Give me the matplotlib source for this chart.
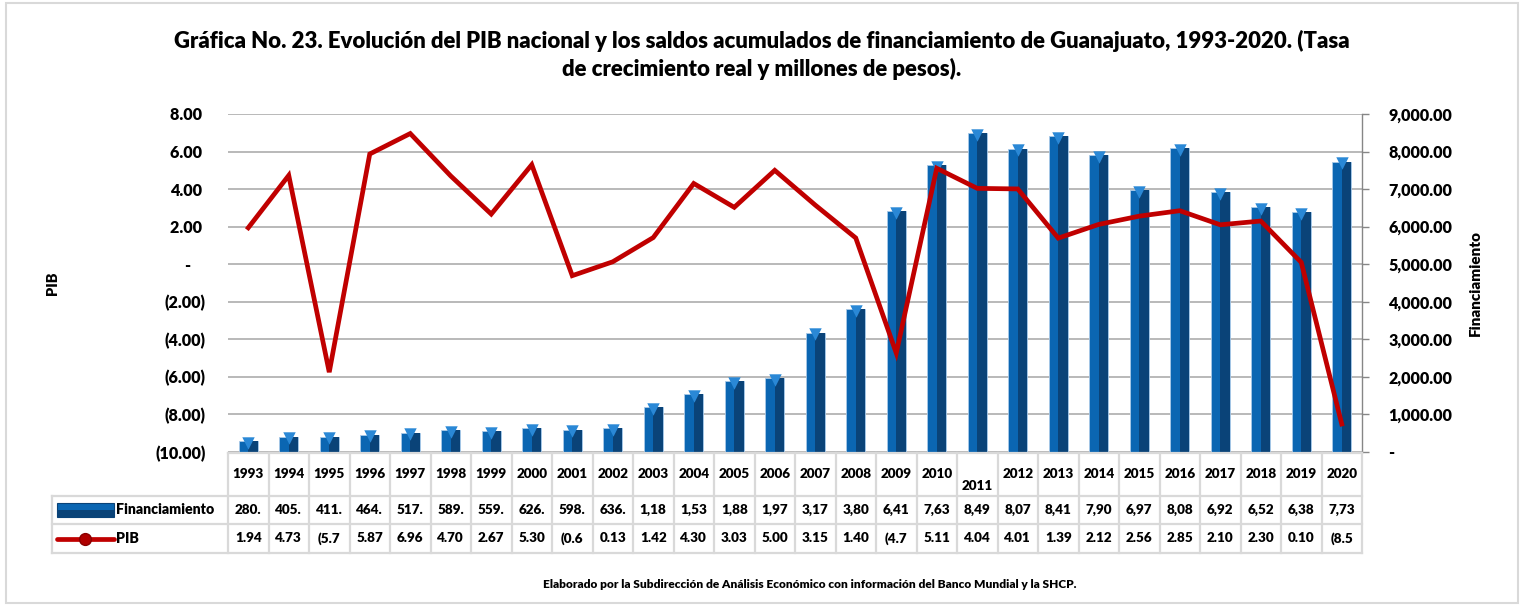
import matplotlib
matplotlib.use('Agg')
import matplotlib.pyplot as plt
import matplotlib.patches as mpatches
from matplotlib.ticker import FuncFormatter
import numpy as np

plt.rcParams['font.family'] = ['Lato', 'DejaVu Sans']
plt.rcParams['font.weight'] = 'heavy'
WT = 'heavy'

years = [str(y) for y in range(1993, 2021)]
financiamiento = [280.5, 405.2, 411.3, 464.1, 517.6, 589.4, 559.8, 626.0, 598.7, 636.2,
                  1185, 1535, 1885, 1975, 3175, 3805, 6415, 7635, 8495, 8075,
                  8415, 7905, 6975, 8085, 6925, 6525, 6385, 7735]
pib = [1.94, 4.73, -5.75, 5.87, 6.96, 4.70, 2.67, 5.30, -0.61, 0.13,
       1.42, 4.30, 3.03, 5.00, 3.15, 1.40, -4.73, 5.11, 4.04, 4.01,
       1.39, 2.12, 2.56, 2.85, 2.10, 2.30, 0.10, -8.51]

W, H = 1525, 605
fig = plt.figure(figsize=(W / 100, H / 100), dpi=100)
fig.patch.set_facecolor('white')

# outer chart border
fig.add_artist(mpatches.Rectangle((6 / W, 1 - 603 / H), 1512 / W, 600 / H,
                                  transform=fig.transFigure, fill=False,
                                  edgecolor='#d9d9d9', linewidth=1.5))

# ── axes geometry (pixels) ──────────────────────────────────────────────
x0, x1 = 228, 1362
ytop, ybot = 114, 452
axL = fig.add_axes([x0 / W, 1 - ybot / H, (x1 - x0) / W, (ybot - ytop) / H])
axR = axL.twinx()
axL.set_zorder(axR.get_zorder() + 1)
axL.patch.set_visible(False)

x = np.arange(len(years))

# bars (3D-ish look: light left face, dark right face, light cap)
bw = 0.47
axR.bar(x, financiamiento, bw, color='#0b66b2', edgecolor='#a9c9e8',
        linewidth=0.6, zorder=2)
axR.bar(x + bw * 0.25, financiamiento, bw * 0.5, color='#0a4378',
        linewidth=0, zorder=3)
axR.scatter(x, np.array(financiamiento) - 45, marker='v', s=80,
            color='#2a88d6', linewidths=0, zorder=4)

axR.set_ylim(0, 9000)
axR.set_yticks(np.arange(0, 9001, 1000))
axR.yaxis.set_major_formatter(FuncFormatter(
    lambda v, p: '-' if v == 0 else f'{v:,.2f}'))
axR.yaxis.grid(True, color='#a6a6a6', linewidth=1.1)
axR.set_axisbelow(True)
axR.tick_params(axis='y', direction='out', length=5, width=1, color='#868686',
                pad=14, labelsize=11.6)
for lab in axR.get_yticklabels():
    lab.set_fontweight(WT)

# PIB line
axL.plot(x, pib, color='#c00000', linewidth=3.4, zorder=5,
         solid_joinstyle='miter')
axL.set_ylim(-10, 8)
axL.set_yticks(np.arange(-10, 8.1, 2))


def fmt_left(v, p):
    if abs(v) < 1e-9:
        return '-    '
    if v < 0:
        return f'({abs(v):.2f})'
    return f'{v:.2f} '


axL.yaxis.set_major_formatter(FuncFormatter(fmt_left))
axL.tick_params(axis='y', length=0, pad=16, labelsize=11.6)
for lab in axL.get_yticklabels():
    lab.set_fontweight(WT)
axL.set_xlim(-0.5, len(years) - 0.5)
axL.set_xticks([])
axR.set_xticks([])
for a in (axL, axR):
    for s in ('top', 'bottom', 'left'):
        a.spines[s].set_visible(False)
axL.spines['right'].set_visible(False)
axR.spines['right'].set_color('#868686')
axR.spines['right'].set_linewidth(1)

# ── data table below the plot ──────────────────────────────────────────
tt, tb = 453, 553
tab = fig.add_axes([x0 / W, 1 - tb / H, (x1 - x0) / W, (tb - tt) / H])
tab.set_xlim(-0.5, len(years) - 0.5)
tab.set_ylim(100, 0)
tab.axis('off')
rows = [0, 43, 71, 100]
grid_c = '#d9d9d9'
unit = (x1 - x0) / len(years)
left_edge = -0.5 - (x0 - 52) / unit

for i in range(len(years) + 1):
    tab.plot([i - 0.5, i - 0.5], [rows[0], rows[3]], color=grid_c, lw=1.6,
             clip_on=False)
tab.plot([left_edge, left_edge], [rows[1], rows[3]], color=grid_c, lw=1.6,
         clip_on=False)
tab.plot([-0.5, len(years) - 0.5], [rows[0], rows[0]], color=grid_c, lw=1.6,
         clip_on=False)
for r in rows[1:]:
    tab.plot([left_edge, len(years) - 0.5], [r, r], color=grid_c, lw=1.6,
             clip_on=False)

fin_txt = [f'{v:,.2f}'[:4] for v in financiamiento]
pib_txt = [(f'({abs(v):.2f})' if v < 0 else f'{v:.2f}')[:4] for v in pib]
for i, yr in enumerate(years):
    dy = 11 if yr == '2011' else 0
    tab.text(i, (rows[0] + rows[1]) / 2 + dy, yr, ha='center', va='center',
             fontsize=9.7, fontweight=WT)
    tab.text(i, (rows[1] + rows[2]) / 2, fin_txt[i], ha='center', va='center',
             fontsize=9.7, fontweight=WT)
    tab.text(i, (rows[2] + rows[3]) / 2, pib_txt[i], ha='center', va='center',
             fontsize=9.7, fontweight=WT)

# row labels with legend keys
kx0 = -0.5 - (x0 - 57) / unit
kx1 = -0.5 - (x0 - 114) / unit
mid1 = (rows[1] + rows[2]) / 2
mid2 = (rows[2] + rows[3]) / 2
tab.add_patch(mpatches.Rectangle((kx0, mid1 - 7), kx1 - kx0, 14,
                                 facecolor='#0b66b2', edgecolor='#0a4378',
                                 lw=0.8, clip_on=False))
tab.add_patch(mpatches.Rectangle((kx0, mid1), kx1 - kx0, 7,
                                 facecolor='#0a4378', lw=0, clip_on=False))
tab.plot([kx0, kx1], [mid2, mid2], color='#c00000', lw=3.4, clip_on=False,
         solid_capstyle='round')
tab.plot([(kx0 + kx1) / 2], [mid2], marker='o', ms=8.5, color='#b00000',
         mec='#8a0000', clip_on=False)
tab.text(kx1 + 0.05, mid1, 'Financiamiento', ha='left', va='center',
         fontsize=10.2, fontweight=WT)
tab.text(kx1 + 0.05, mid2, 'PIB', ha='left', va='center',
         fontsize=10.2, fontweight=WT)

# ── titles and labels ──────────────────────────────────────────────────
fig.text(762 / W, 1 - 55 / H,
         'Gráfica No. 23. Evolución del PIB nacional y los saldos acumulados de '
         'financiamiento de Guanajuato, 1993-2020. (Tasa\n'
         'de crecimiento real y millones de pesos).',
         ha='center', va='center', fontsize=15.9, fontweight=WT,
         linespacing=1.3)
fig.text(52 / W, 1 - 283 / H, 'PIB', rotation=90, ha='center', va='center',
         fontsize=10.5, fontweight=WT)
fig.text(1475 / W, 1 - 283 / H, 'Financiamiento', rotation=90, ha='center',
         va='center', fontsize=11, fontweight=WT)
fig.text(810 / W, 1 - 584 / H,
         'Elaborado por la Subdirección de Análisis Económico con información '
         'del Banco Mundial y la SHCP.',
         ha='center', va='center', fontsize=8.6, fontweight=WT)

fig.savefig('out.png', dpi=100, facecolor=fig.get_facecolor())
